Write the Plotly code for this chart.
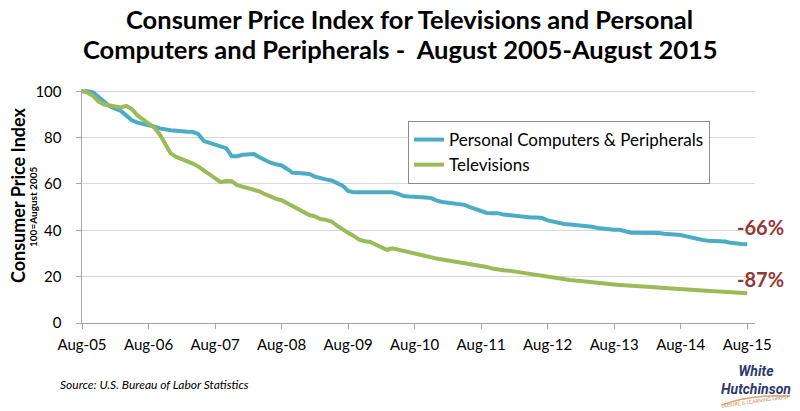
import plotly.graph_objects as go

# ---- data (monthly, Aug-2005 .. Aug-2015, index 100 = Aug 2005) ----
pc_values = [
    100, 100, 99.5, 97.5, 95, 93.5, 92.5, 91.5, 89.5, 87.5,
    86.5, 86, 85.4, 84.8, 84, 83.5, 83.2, 83, 83, 82.6,
    82.5, 81.5, 78.5, 77.8, 77, 76.3, 75.5, 72, 72, 72.6,
    72.9, 72.9, 71.5, 70.2, 69.2, 68.5, 68, 66.5, 64.8, 64.7,
    64.6, 64.3, 63.2, 62.4, 62, 61.5, 60.6, 59.3, 57, 56.4,
    56.4, 56.4, 56.4, 56.4, 56.4, 56.4, 56.4, 55.8, 54.8, 54.6,
    54.6, 54.6, 54.2, 53.9, 52.8, 52.2, 51.9, 51.4, 51.1, 51,
    50, 49.1, 48.3, 47.5, 47.4, 47.4, 46.8, 46.5, 46.4, 46,
    45.5, 45.5, 45.5, 45.3, 44.3, 43.7, 43.2, 42.7, 42.5, 42.3,
    42.1, 42, 41.5, 41, 40.7, 40.3, 40.2, 40.2, 39.6, 39,
    39, 39, 39, 39, 38.8, 38.5, 38.4, 38.3, 38, 37.4,
    36.8, 36.3, 35.8, 35.5, 35.4, 35.3, 35.2, 34.6, 34.2, 34.1,
    34,
]
tv_values = [
    100, 99.5, 98, 95.5, 94.3, 93.8, 93.5, 93, 93.7, 92.3,
    89.6, 87.8, 86, 84.4, 81.5, 77, 73.2, 71.7, 70.7, 70,
    68.8, 67.5, 65.8, 64.5, 62.5, 60.8, 61.3, 61.2, 59.5, 58.8,
    57.8, 57.4, 56.8, 55.6, 54.4, 53.6, 53, 51.8, 50.5, 49,
    47.8, 46.6, 46, 44.9, 44.5, 43.8, 42, 40.3, 38.9, 37.6,
    36, 35.3, 35, 33.8, 32.5, 31.6, 32.2, 31.6, 31, 30.4,
    29.8, 29.4, 28.8, 28.4, 27.8, 27.4, 27, 26.8, 26.6, 25.9,
    25.4, 25, 24.6, 24.2, 23.5, 23, 22.8, 22.6, 22.2, 21.8,
    21.4, 21, 20.6, 20.2, 19.8, 19.4, 19.1, 18.9, 18.6, 18.3,
    18, 17.7, 17.5, 17.3, 17.1, 16.9, 16.6, 16.4, 16.3, 16.2,
    16.1, 15.9, 15.6, 15.4, 15.3, 15.1, 14.9, 14.7, 14.6, 14.4,
    14.3, 14.1, 14, 13.8, 13.7, 13.6, 13.5, 13.2, 13, 12.9,
    12.8,
]
months = list(range(len(pc_values)))
tick_months = [0, 12, 24, 36, 48, 60, 72, 84, 96, 108, 120]
tick_labels = ["Aug-05", "Aug-06", "Aug-07", "Aug-08", "Aug-09", "Aug-10",
               "Aug-11", "Aug-12", "Aug-13", "Aug-14", "Aug-15"]
y_ticks = [0, 20, 40, 60, 80, 100]
y_tick_labels = ["0", "20", "40", "60", "80", "100"]
series_names = ["Personal Computers & Peripherals", "Televisions"]
change_labels = ["-66%", "-87%"]
title_lines = ["Consumer Price Index for Televisions and Personal",
               "Computers and Peripherals -  August 2005-August 2015"]

FONT = "Lato"
BLUE = "#4BACC6"
GREEN = "#9BBB59"
RED = "#953735"

# page has an 8px body margin; figure is sized so it fits the 800x411 window
W, H = 792, 403
ML, MR, MT, MB = 74, 45, 81, 88
PW, PH = W - ML - MR, H - MT - MB


def px(x_page):
    return (x_page - 8 - ML) / PW


def py(y_page):
    return (H - MB - (y_page - 8)) / PH


fig = go.Figure()
fig.add_trace(go.Scatter(x=months, y=pc_values, mode="lines", name=series_names[0],
                         line=dict(color=BLUE, width=4)))
fig.add_trace(go.Scatter(x=months, y=tv_values, mode="lines", name=series_names[1],
                         line=dict(color=GREEN, width=4)))

fig.update_layout(
    width=W, height=H,
    margin=dict(l=ML, r=MR, t=MT, b=MB),
    paper_bgcolor="white", plot_bgcolor="white",
    font=dict(family=FONT, color="black"),
    legend=dict(
        x=px(408), y=py(121), xanchor="left", yanchor="top",
        bgcolor="white", bordercolor="#8C8C8C", borderwidth=1,
        font=dict(family=FONT, size=17, color="black"),
        tracegroupgap=0, itemwidth=30,
    ),
    showlegend=True,
)

fig.update_xaxes(
    range=[0, 121.4], tickmode="array", tickvals=tick_months, ticktext=tick_labels,
    showgrid=False, zeroline=False, showline=True, linecolor="#A6A6A6", linewidth=1,
    ticks="outside", ticklen=5, tickcolor="#A6A6A6", ticklabelstandoff=3,
    tickfont=dict(family=FONT, size=15, color="black"),
)
fig.update_yaxes(
    range=[0, 101], tickmode="array", tickvals=y_ticks,
    ticktext=[t + "\u00a0\u00a0\u00a0" for t in y_tick_labels],
    showgrid=True, gridcolor="#D9D9D9", gridwidth=1, zeroline=False,
    showline=True, linecolor="#A6A6A6", linewidth=1,
    ticks="outside", ticklen=5, tickcolor="#A6A6A6",
    tickfont=dict(family=FONT, size=15, color="black"),
)

annotations = [
    dict(text="<b>" + title_lines[0] + "</b>", xref="paper", yref="paper",
         x=px(409), y=py(19), xanchor="center", yanchor="middle", showarrow=False,
         font=dict(family=FONT, size=25.5, color="black")),
    dict(text="<b>" + title_lines[1] + "</b>", xref="paper", yref="paper",
         x=px(400), y=py(49), xanchor="center", yanchor="middle", showarrow=False,
         font=dict(family=FONT, size=25.5, color="black")),
    dict(text="<b>Consumer Price Index</b>", xref="paper", yref="paper",
         x=px(18), y=py(195), xanchor="center", yanchor="middle",
         textangle=-90, showarrow=False, font=dict(family=FONT, size=18, color="black")),
    dict(text="<b>100=August 2005</b>", xref="paper", yref="paper",
         x=px(33), y=py(207), xanchor="center", yanchor="middle",
         textangle=-90, showarrow=False, font=dict(family=FONT, size=10, color="black")),
    dict(text="<b>" + change_labels[0] + "</b>", x=months[-1], y=pc_values[-1],
         xanchor="left", yanchor="middle", xshift=-12, yshift=17, showarrow=False,
         font=dict(family=FONT, size=20, color=RED)),
    dict(text="<b>" + change_labels[1] + "</b>", x=months[-1], y=tv_values[-1],
         xanchor="left", yanchor="middle", xshift=-12, yshift=14, showarrow=False,
         font=dict(family=FONT, size=20, color=RED)),
    dict(text="<i>Source: U.S. Bureau of Labor Statistics</i>", xref="paper", yref="paper",
         x=px(58), y=py(384), xanchor="left", yanchor="middle", showarrow=False,
         font=dict(family=FONT, size=12, color="black")),
    dict(text="<i><b>White<br>Hutchinson</b></i>", xref="paper", yref="paper",
         x=px(756), y=py(380), xanchor="center", yanchor="middle", align="center",
         showarrow=False, font=dict(family="Liberation Sans Narrow, Roboto", size=14, color="#2E3A6E")),
    dict(text="LEISURE &amp; LEARNING GROUP", xref="paper", yref="paper",
         x=px(755), y=py(401), xanchor="center", yanchor="middle",
         showarrow=False, textangle=-8, font=dict(family=FONT, size=5, color="#C98A55")),
]
fig.update_layout(annotations=annotations)

fig.add_shape(type="path", xref="paper", yref="paper",
              path="M %f,%f Q %f,%f %f,%f" % (px(722), py(405), px(750), py(394),
                                              px(790), py(396)),
              line=dict(color="#E0A070", width=1.5))

fig.write_html("out.html")
